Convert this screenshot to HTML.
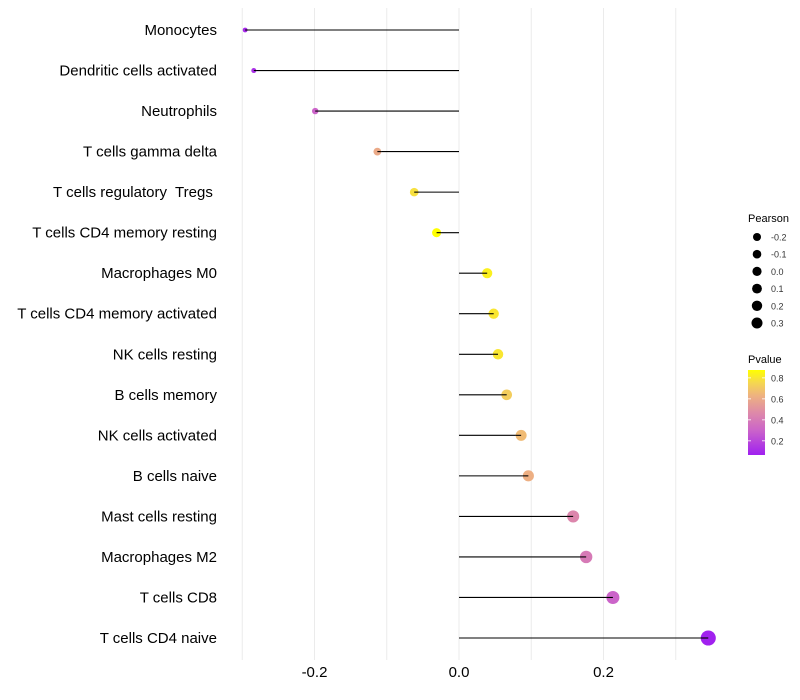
<!DOCTYPE html>
<html><head><meta charset="utf-8"><style>
body{margin:0;background:#fff}
svg{display:block;font-family:"Liberation Sans",sans-serif}
text{white-space:pre}
</style></head><body>
<svg id="chart" width="800" height="700"></svg>
<script>
const categories=["Monocytes","Dendritic cells activated","Neutrophils","T cells gamma delta","T cells regulatory  Tregs ","T cells CD4 memory resting","Macrophages M0","T cells CD4 memory activated","NK cells resting","B cells memory","NK cells activated","B cells naive","Mast cells resting","Macrophages M2","T cells CD8","T cells CD4 naive"];
const pearson=[-0.296,-0.284,-0.199,-0.113,-0.062,-0.031,0.039,0.048,0.054,0.066,0.086,0.096,0.158,0.176,0.213,0.345];
const pvalue=[0.1,0.12,0.3,0.6,0.78,0.875,0.83,0.8,0.8,0.72,0.66,0.62,0.45,0.4,0.3,0.07];
const xTicks=[-0.2,0,0.2];
const xTickLabels=["-0.2","0.0","0.2"];
const xGrid=[-0.3,-0.1,0.1,0.3];
const sizeLegendValues=[-0.2,-0.1,0.0,0.1,0.2,0.3];
const sizeLegendLabels=["-0.2","-0.1","0.0","0.1","0.2","0.3"];
const pLegendValues=[0.8,0.6,0.4,0.2];
const pLegendLabels=["0.8","0.6","0.4","0.2"];

const NS="http://www.w3.org/2000/svg";
const svg=document.getElementById("chart");
function mk(tag,attrs,parent){const e=document.createElementNS(NS,tag);for(const k in attrs)e.setAttribute(k,attrs[k]);(parent||svg).appendChild(e);return e;}
const x=v=>459+v*722.5;
const y=i=>30+i*(608/15);
const r=v=>4.8+8.0*v;
const stops=[[0,[160,32,240]],[0.3,[204,102,200]],[0.5,[222,138,168]],[0.7,[238,178,128]],[0.85,[245,215,80]],[1,[255,255,0]]];
function color(p){let t=(p-0.065)/(0.875-0.065);t=Math.max(0,Math.min(1,t));
 for(let k=1;k<stops.length;k++){if(t<=stops[k][0]){const a=stops[k-1],b=stops[k];const f=(t-a[0])/(b[0]-a[0]);
 const c=a[1].map((v,j)=>Math.round(v+(b[1][j]-v)*f));return `rgb(${c.join(",")})`;}}return "rgb(255,255,0)";}

xGrid.concat(xTicks).forEach(v=>{const g=mk("line",{x1:x(v),x2:x(v),y1:8,y2:660,stroke:"#ebebeb","stroke-width":1});

});
xTicks.forEach((v,i)=>{const t=mk("text",{x:x(v),y:677,"text-anchor":"middle","font-size":15,fill:"#000"});t.textContent=xTickLabels[i];

});
categories.forEach((c,i)=>{
 const t=mk("text",{x:217,y:y(i)+5,"text-anchor":"end","font-size":15,fill:"#000"});t.textContent=c;
 
 
 const l=mk("line",{x1:x(0),x2:x(pearson[i]),y1:y(i),y2:y(i),stroke:"#000","stroke-width":1.1});
 
 
 const p=mk("circle",{cx:x(pearson[i]),cy:y(i),r:r(pearson[i]),fill:color(pvalue[i])});
 
 
 mk("line",{x1:x(pearson[i]),x2:x(pearson[i])+(pearson[i]<0?r(pearson[i]):-r(pearson[i])),y1:y(i),y2:y(i),stroke:"#000","stroke-width":1.1});
});
const lt=mk("text",{x:748,y:222,"font-size":11,fill:"#000"});lt.textContent="Pearson";


sizeLegendValues.forEach((v,i)=>{const cy=237+i*17.2;
 const c=mk("circle",{cx:757,cy:cy,r:4.6+v*3,fill:"#000"});
 
 
 const t=mk("text",{x:771,y:cy+3.5,"font-size":9,fill:"#333"});t.textContent=sizeLegendLabels[i];
 
 });
const pt=mk("text",{x:748,y:363,"font-size":11,fill:"#000"});pt.textContent="Pvalue";


const defs=mk("defs",{});const lg=mk("linearGradient",{id:"pg",x1:0,y1:1,x2:0,y2:0},defs);
stops.forEach(s=>mk("stop",{offset:s[0],"stop-color":`rgb(${s[1].join(",")})`},lg));
const bar=mk("rect",{x:748,y:370,width:17,height:85,fill:"url(#pg)"});


const py=p=>455-(p-0.065)/(0.875-0.065)*85;
pLegendValues.forEach((v,i)=>{
 mk("line",{x1:748,x2:751,y1:py(v),y2:py(v),stroke:"#fff","stroke-width":0.8});
 mk("line",{x1:762,x2:765,y1:py(v),y2:py(v),stroke:"#fff","stroke-width":0.8});
 const t=mk("text",{x:771,y:py(v)+3.5,"font-size":9,fill:"#333"});t.textContent=pLegendLabels[i];
 
 });
</script>
</body></html>
